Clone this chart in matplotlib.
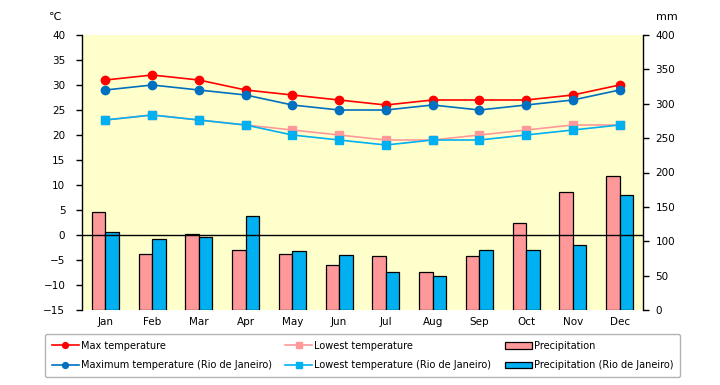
import numpy as np
import matplotlib
matplotlib.use("Agg")
import matplotlib.pyplot as plt

months = ["Jan", "Feb", "Mar", "Apr", "May", "Jun",
          "Jul", "Aug", "Sep", "Oct", "Nov", "Dec"]

max_temp = [31, 32, 31, 29, 28, 27, 26, 27, 27, 27, 28, 30]
low_temp = [23, 24, 23, 22, 21, 20, 19, 19, 20, 21, 22, 22]
precip = [142, 81, 110, 88, 81, 65, 78, 55, 78, 127, 171, 195]

rio_max_temp = [29, 30, 29, 28, 26, 25, 25, 26, 25, 26, 27, 29]
rio_low_temp = [23, 24, 23, 22, 20, 19, 18, 19, 19, 20, 21, 22]
rio_precip = [113, 104, 106, 137, 86, 80, 55, 50, 87, 87, 95, 168]

plt.rcParams['font.family'] = ['DejaVu Sans']
plt.rcParams['font.size'] = 7.5

fig = plt.figure(figsize=(7.2, 3.85), dpi=100)
ax = fig.add_axes([82/720, 1 - 310/385, (643 - 82)/720, 275/385])
ax2 = ax.twinx()

x = np.arange(len(months))
w = 0.29

# precipitation bars on the right axis, yellow plot area behind them
ax2.patch.set_visible(True)
ax2.set_facecolor("#FFFFCC")
b1 = ax2.bar(x - w/2, precip, w, color="#FF9999", edgecolor="black", linewidth=0.9)
b2 = ax2.bar(x + w/2, rio_precip, w, color="#00B0F0", edgecolor="black", linewidth=0.9)
ax2.set_ylim(0, 400)
ax2.set_yticks(range(0, 401, 50))

# temperature lines above the bars
ax.set_zorder(ax2.get_zorder() + 1)
ax.patch.set_visible(False)
ax.axhline(0, color="black", linewidth=1)
l1, = ax.plot(x, max_temp, color="#FF0000", marker="o", markersize=6, linewidth=1.2)
l3, = ax.plot(x, low_temp, color="#FF9999", marker="s", markersize=6, linewidth=1.2)
l2, = ax.plot(x, rio_max_temp, color="#0070C0", marker="o", markersize=6, linewidth=1.2)
l4, = ax.plot(x, rio_low_temp, color="#00B0F0", marker="s", markersize=6, linewidth=1.2)

ax.set_ylim(-15, 40)
ax.set_yticks(range(-15, 41, 5))
ax.set_xlim(-0.5, 11.5)
ax.set_xticks(x)
ax.set_xticklabels(months)
ax.tick_params(axis="x", length=0, pad=5)
ax.tick_params(axis="y", direction="out", length=4, width=1, pad=8)
ax2.tick_params(axis="y", direction="out", length=4, width=1, pad=5)

for a in (ax, ax2):
    a.spines["top"].set_visible(False)
    a.spines["bottom"].set_visible(False)
ax.spines["right"].set_visible(False)
ax2.spines["left"].set_visible(False)
ax.spines["left"].set_linewidth(1)
ax2.spines["right"].set_linewidth(1)

fig.text(55/720, 1 - 17/385, "\u2103", ha="center", va="center", fontsize=8)
fig.text(667/720, 1 - 17/385, "mm", ha="center", va="center", fontsize=8)

handles = [l1, l2, l3, l4, b1, b2]
labels = ["Max temperature", "Maximum temperature (Rio de Janeiro)",
          "Lowest temperature", "Lowest temperature (Rio de Janeiro)",
          "Precipitation", "Precipitation (Rio de Janeiro)"]
leg = fig.legend(handles, labels, ncol=3, mode="expand",
                 bbox_to_anchor=(40/720, 3/385, 645/720, 49/385),
                 loc="lower left", frameon=True, fancybox=True,
                 edgecolor="#A0A0A0", fontsize=7, handlelength=2.8,
                 handletextpad=0.2, markerscale=0.7, borderpad=0.7,
                 labelspacing=1.0)
leg.get_frame().set_linewidth(1)

fig.savefig("out.png", dpi=100)
